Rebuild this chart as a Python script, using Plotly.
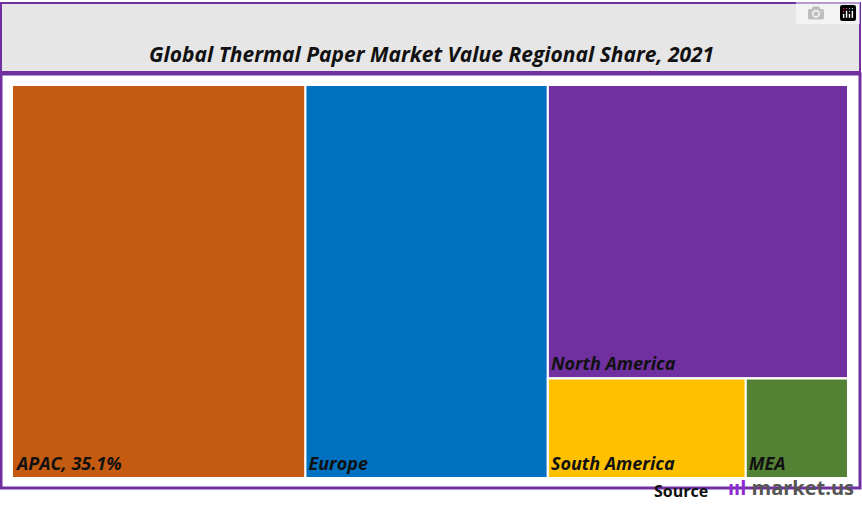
import plotly.graph_objects as go

# regional share of thermal paper market value, 2021 (%)
ids = ["root", "APAC", "Europe", "rest", "North America", "bottom", "South America", "MEA"]
parents = ["", "root", "root", "root", "rest", "rest", "bottom", "bottom"]
values = [100, 35.1, 29.0, 35.9, 26.8, 9.1, 6.0, 3.1]
texts = ["", "APAC, 35.1%", "Europe", "", "North America", "", "South America", "MEA"]
colors = ["#ffffff", "#c55a11", "#0070c0", "#ffffff", "#7030a0", "#ffffff", "#ffc000", "#548235"]

W, H = 862, 525
fig = go.Figure(go.Treemap(
    ids=ids, labels=ids, parents=parents, values=values, text=texts,
    branchvalues="total", sort=False,
    texttemplate="<b><i>%{text}</i></b>", textposition="bottom left",
    textfont=dict(family="Open Sans", size=18, color="#111111"),
    marker=dict(colors=colors, line=dict(color="white", width=2), pad=dict(t=0, l=0, r=0, b=0)),
    tiling=dict(packing="slice-dice", pad=0),
    pathbar=dict(visible=False),
    hoverinfo="skip",
    domain=dict(x=[12 / W, 848 / W], y=[(H - 478) / H, (H - 85) / H]),
))

shapes = [
    dict(type="rect", xref="paper", yref="paper", x0=1 / W, x1=860 / W, y0=(H - 72) / H, y1=(H - 3) / H,
         line=dict(color="#7030a0", width=2), fillcolor="#e7e6e6", layer="below"),
    dict(type="rect", xref="paper", yref="paper", x0=1 / W, x1=860 / W, y0=(H - 488) / H, y1=(H - 74) / H,
         line=dict(color="#7030a0", width=3), fillcolor="white", layer="below"),
]
annotations = [
    dict(text="<b><i>Global Thermal Paper Market Value Regional Share, 2021</i></b>", x=0.5, y=(H - 38) / H,
         xref="paper", yref="paper", showarrow=False, font=dict(family="Open Sans", size=21, color="#111111")),
    dict(text="<b>Source</b>", x=710 / W, y=(H - 504) / H, xref="paper", yref="paper", xanchor="right",
         showarrow=False, font=dict(family="Open Sans", size=16, color="#111111")),
    dict(text="<b><span style='color:#8e2bd6'>ııl</span> market.us</b>", x=856 / W, y=(H - 503) / H,
         xref="paper", yref="paper", xanchor="right", showarrow=False,
         font=dict(family="Open Sans", size=20, color="#555555")),
]
fig.update_layout(width=W, height=H, margin=dict(l=0, r=0, t=0, b=0), paper_bgcolor="white",
                  shapes=shapes, annotations=annotations, font=dict(family="Open Sans"))
fig.write_html("out.html")

# drop the default page margin so the figure fills the window
with open("out.html", encoding="utf-8") as f:
    html = f.read()
html = html.replace("<head>", "<head><style>body{margin:0;overflow:hidden}</style>", 1)
with open("out.html", "w", encoding="utf-8") as f:
    f.write(html)
